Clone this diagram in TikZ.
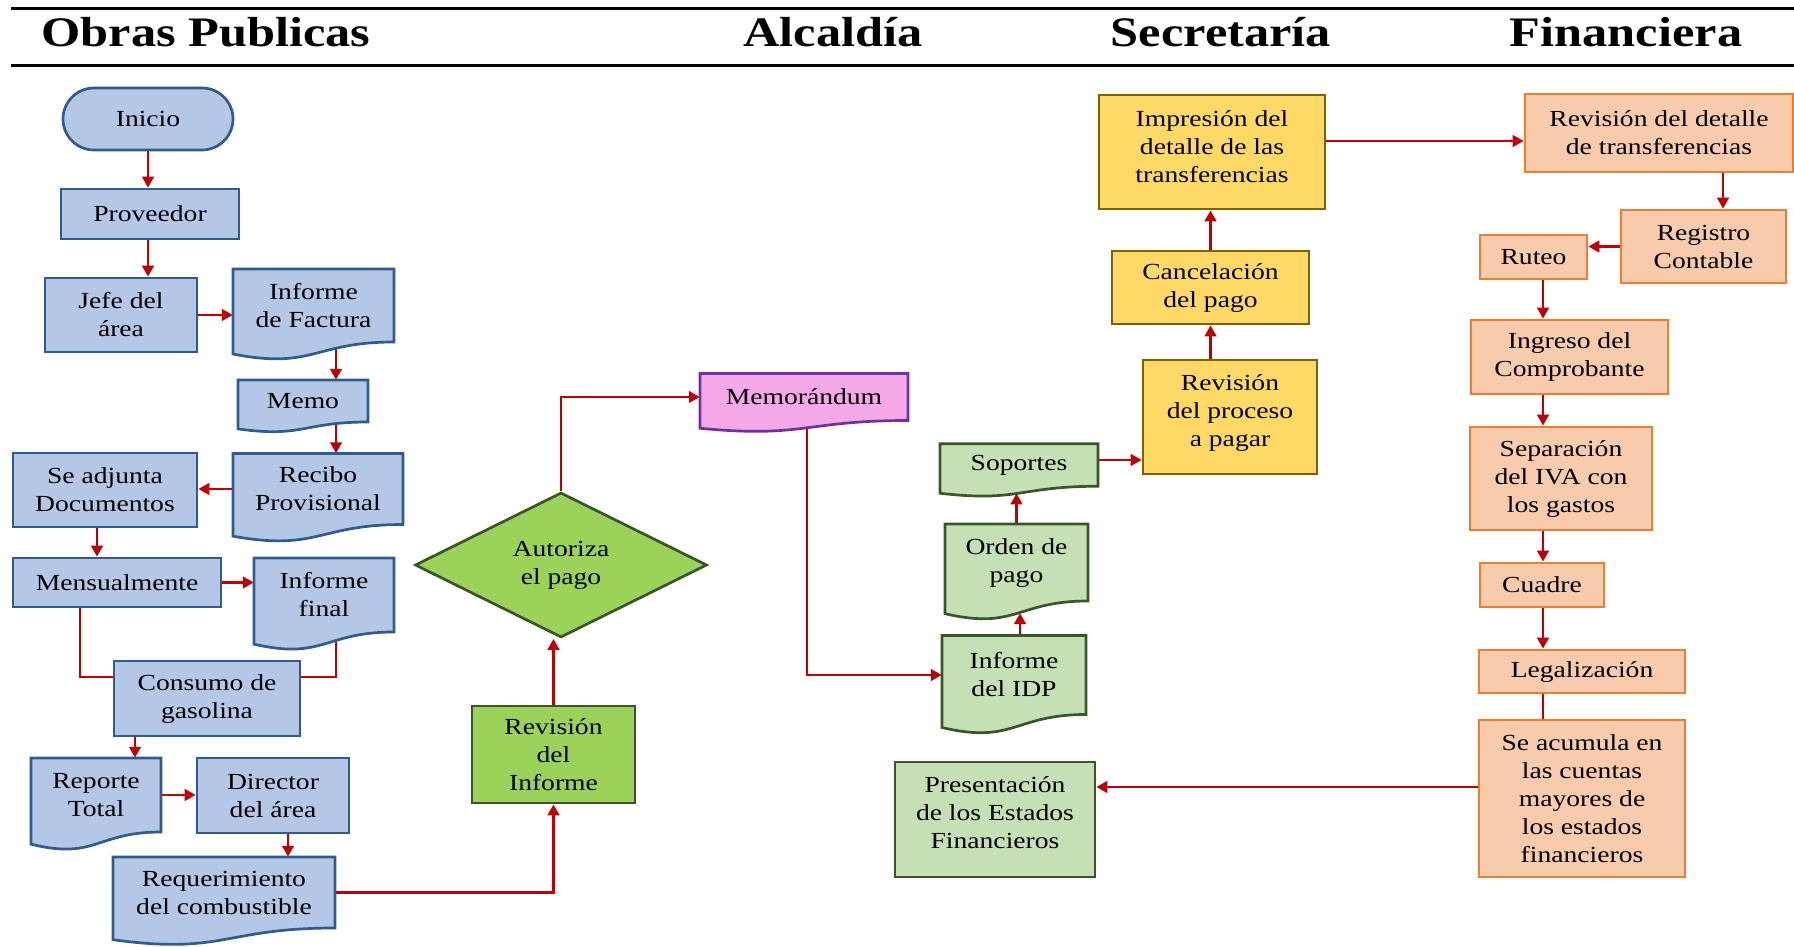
\documentclass[tikz,border=0pt]{standalone}
\usepackage{fontspec}
\setmainfont{Liberation Serif}[FakeStretch=1.2]
\usetikzlibrary{arrows.meta,calc,shapes.geometric}
\definecolor{blueF}{HTML}{B4C7E7}
\definecolor{blueD}{HTML}{2F5C8A}
\definecolor{greenF}{HTML}{9BD35A}
\definecolor{greenD}{HTML}{38562A}
\definecolor{lgreenF}{HTML}{C5E0B4}
\definecolor{pinkF}{HTML}{F4A8E8}
\definecolor{pinkD}{HTML}{7030A0}
\definecolor{yelF}{HTML}{FFD966}
\definecolor{yelD}{HTML}{806000}
\definecolor{orF}{HTML}{F8CBAD}
\definecolor{orD}{HTML}{ED7D31}
\definecolor{arrowred}{HTML}{C00000}
\pgfdeclarelayer{bg}
\pgfsetlayers{bg,main}
\newcommand{\bodyfont}{\fontsize{23}{28}\selectfont}
\newcommand{\headfont}{\fontsize{42}{48}\selectfont\bfseries}
% document shape: name, cx, cy, width, rect height, style, text
\newcommand{\docnode}[7]{%
  \path[#6] ({#2-#4/2},{#3-#5/2}) -- ({#2+#4/2},{#3-#5/2}) -- ({#2+#4/2},{#3+#5/2})
    .. controls (#2,{#3+#5/2}) and (#2,{#3+#5/2+0.380*#5}) .. ({#2-#4/2},{#3+#5/2+0.1646*#5}) -- cycle;
  \node[txt, minimum width=#4pt, minimum height=#5pt] (#1) at (#2,#3) {#7};
}
\tikzset{
  txt/.style={align=center, inner sep=0pt, font=\bodyfont, text=black},
  box/.style={txt},
  sblue/.style={fill=blueF, draw=blueD, line width=2.7pt},
  sgreen/.style={fill=greenF, draw=greenD, line width=2.7pt},
  slgreen/.style={fill=lgreenF, draw=greenD, line width=2.7pt},
  spink/.style={fill=pinkF, draw=pinkD, line width=2.7pt},
  syel/.style={fill=yelF, draw=yelD, line width=2.7pt},
  sor/.style={fill=orF, draw=orD, line width=2.7pt},
  head/.style={font=\headfont, inner sep=0pt, text=black},
  rule/.style={line width=3pt, black},
  arr/.style={draw=arrowred, line width=2.8pt, -{Triangle[length=11pt,width=11.5pt]}},
  ln/.style={draw=arrowred, line width=2.8pt}
}
\begin{document}
\begin{tikzpicture}[x=1pt, y=-1pt]
\useasboundingbox (0,0) rectangle (1794,947);
% header
\coordinate (r1a) at (11,9); \coordinate (r1b) at (1794,9);
\coordinate (r2a) at (11,66); \coordinate (r2b) at (1794,66);
\draw[rule] (r1a) -- (r1b);
\draw[rule] (r2a) -- (r2b);
\node[head, anchor=base] (h1) at (206,46.5) {Obras Publicas};
\node[head, anchor=base] (h2) at (833,46.5) {Alcaldía};
\node[head, anchor=base] (h3) at (1221,46.5) {Secretaría};
\node[head, anchor=base] (h4) at (1626,46.5) {Financiera};

% Obras Publicas
\node[box, sblue, rounded corners=31pt, minimum width=170pt, minimum height=62pt] (inicio) at (148,119) {Inicio};
\node[box, sblue, minimum width=178pt, minimum height=50pt] (prov) at (150,214) {Proveedor};
\node[box, sblue, minimum width=152pt, minimum height=74pt] (jefe) at (121,315) {Jefe del\\área};
\docnode{ifact}{313.5}{305.5}{161}{73}{sblue}{Informe\\de Factura}
\docnode{memo}{303}{401}{130}{42}{sblue}{Memo}
\docnode{recibo}{318}{489}{170}{71}{sblue}{Recibo\\Provisional}
\node[box, sblue, minimum width=184pt, minimum height=74pt] (adj) at (105,490) {Se adjunta\\Documentos};
\node[box, sblue, minimum width=208pt, minimum height=49pt] (mens) at (117,582.5) {Mensualmente};
\docnode{ifinal}{324}{595}{140}{74}{sblue}{Informe\\final}
\node[box, sblue, minimum width=186pt, minimum height=75pt] (consumo) at (207,698.5) {Consumo de\\gasolina};
\docnode{reporte}{96}{795}{130}{74}{sblue}{Reporte\\Total}
\node[box, sblue, minimum width=152pt, minimum height=75pt] (director) at (273,795.5) {Director\\del área};
\docnode{req}{224}{892.5}{222}{71}{sblue}{Requerimiento\\del combustible}

% Alcaldia
\node[box, sgreen, diamond, minimum width=292pt, minimum height=145pt] (aut) at (561,565) {Autoriza\\el pago};
\node[box, sgreen, minimum width=163pt, minimum height=97pt] (revinf) at (553.5,754.5) {Revisión\\del\\Informe};
\docnode{memor}{804}{397}{208}{47}{spink}{Memorándum}

% Secretaria
\docnode{idp}{1014}{675}{144}{79}{slgreen}{Informe\\del IDP}
\docnode{orden}{1016.5}{562.5}{143}{77}{slgreen}{Orden de\\pago}
\docnode{sop}{1019}{465}{158}{42.5}{slgreen}{Soportes}
\node[box, slgreen, text depth=14pt, minimum width=200pt, minimum height=115pt] (present) at (995,819.5) {Presentación\\de los Estados\\Financieros};
\node[box, syel, text depth=13pt, minimum width=174pt, minimum height=114pt] (revproc) at (1230,417) {Revisión\\del proceso\\a pagar};
\node[box, syel, minimum width=197pt, minimum height=73pt] (cancel) at (1210.5,287.5) {Cancelación\\del pago};
\node[box, syel, text depth=10pt, minimum width=226pt, minimum height=114pt] (impres) at (1212,152) {Impresión del\\detalle de las\\transferencias};

% Financiera
\node[box, sor, minimum width=268pt, minimum height=78pt] (revdet) at (1659,133) {Revisión del detalle\\de transferencias};
\node[box, sor, minimum width=165pt, minimum height=73pt] (registro) at (1703.5,246.5) {Registro\\Contable};
\node[box, sor, minimum width=107pt, minimum height=44pt] (ruteo) at (1533.5,257) {Ruteo};
\node[box, sor, minimum width=197pt, minimum height=74pt] (ingreso) at (1569.5,357) {Ingreso del\\Comprobante};
\node[box, sor, minimum width=182pt, minimum height=103pt] (separ) at (1561,478.5) {Separación\\del IVA con\\los gastos};
\node[box, sor, minimum width=124pt, minimum height=44pt] (cuadre) at (1542,585) {Cuadre};
\node[box, sor, minimum width=206pt, minimum height=43pt] (legal) at (1582,671.5) {Legalización};
\node[box, sor, minimum width=206pt, minimum height=157pt] (acum) at (1582,798.5) {Se acumula en\\las cuentas\\mayores de\\los estados\\financieros};

\begin{pgfonlayer}{bg}
\draw[arr] (inicio.south) -- (inicio.south |- prov.north);
\draw[arr] (inicio.south |- prov.south) -- (inicio.south |- jefe.north);
\draw[arr] (jefe.east) -- (jefe.east -| ifact.west);
\coordinate (xa) at ($(ifact.south)+(22.5,0)$);
\draw[arr] (xa) -- (xa |- memo.north);
\draw[arr] (xa |- memo.south) -- (xa |- recibo.north);
\draw[arr] (recibo.west) -- (recibo.west -| adj.east);
\coordinate (xb) at ($(adj.south)+(-8,0)$);
\draw[arr] (xb) -- (xb |- mens.north);
\draw[arr] (mens.east) -- (mens.east -| ifinal.west);
\coordinate (ycl) at ($(consumo.west)+(0,-21.5)$);
\coordinate (ycr) at ($(consumo.east)+(0,-21.5)$);
\draw[ln] ($(mens.south)+(-37,0)$) |- (ycl);
\draw[ln] ($(ifinal.south)+(12,0)$) |- (ycr);
\coordinate (xc) at ($(consumo.south)+(-72,0)$);
\draw[arr] (xc) -- (xc |- reporte.north);
\draw[arr] (reporte.east) -- (reporte.east -| director.west);
\coordinate (xd) at ($(director.south)+(15,0)$);
\draw[arr] (xd) -- (xd |- req.north);
\draw[arr] (req.east) -| (revinf.south);
\draw[arr] (revinf.north) -- (revinf.north |- aut.south);
\draw[arr] (aut.north) |- (memor.west);
\draw[arr] ($(memor.south)+(3,0)$) |- (idp.west);
\coordinate (xe) at ($(idp.north)+(6,0)$);
\draw[arr] (xe) -- ($(xe |- orden.south)+(0,12)$);
\draw[arr] (orden.north) -- ($(orden.north |- sop.south)+(0,6.9)$);
\coordinate (ys) at ($(sop.east)+(0,-5)$);
\draw[arr] (ys) -- (ys -| revproc.west);
\draw[arr] (cancel.south |- revproc.north) -- (cancel.south);
\draw[arr] (cancel.north) -- (cancel.north |- impres.south);
\coordinate (yi) at ($(impres.east)+(0,-11)$);
\draw[arr] (yi) -- (yi -| revdet.west);
\coordinate (xf) at ($(revdet.south)+(64,0)$);
\draw[arr] (xf) -- (xf |- registro.north);
\draw[arr] (registro.west) -- (registro.west -| ruteo.east);
\coordinate (xg) at ($(ruteo.south)+(9.5,0)$);
\draw[arr] (xg) -- (xg |- ingreso.north);
\draw[arr] (xg |- ingreso.south) -- (xg |- separ.north);
\draw[arr] (xg |- separ.south) -- (xg |- cuadre.north);
\draw[arr] (xg |- cuadre.south) -- (xg |- legal.north);
\draw[ln] (xg |- legal.south) -- (xg |- acum.north);
\coordinate (ya) at ($(acum.west)+(0,-11.5)$);
\draw[arr] (ya) -- (ya -| present.east);
\end{pgfonlayer}
\end{tikzpicture}
\end{document}
